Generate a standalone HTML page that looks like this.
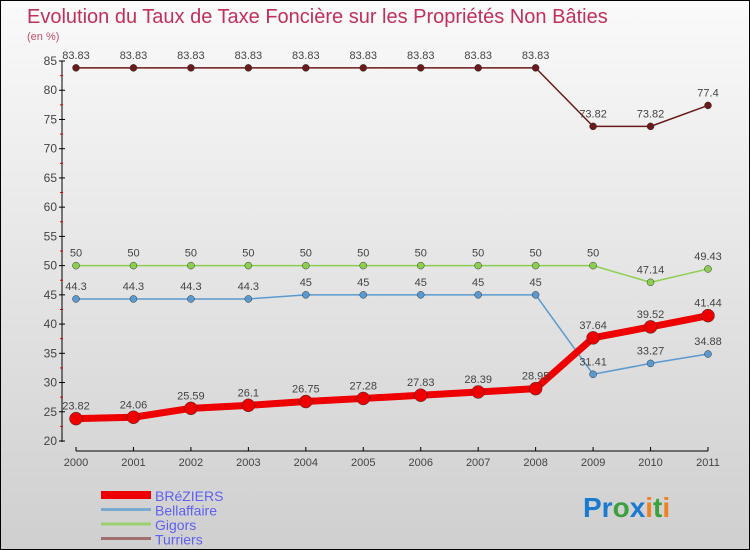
<!DOCTYPE html>
<html><head><meta charset="utf-8"><style>
body{margin:0}
#c{width:750px;height:550px;position:relative;overflow:hidden;background:linear-gradient(#fafafa,#cfcfcf);border:1px solid #000;box-sizing:border-box;font-family:"Liberation Sans",sans-serif}
text{font-family:"Liberation Sans",sans-serif}
</style></head><body>
<div id="c">
<svg id="s" width="750" height="550">
<text x="26" y="22" font-size="20" fill="#c0305a">Evolution du Taux de Taxe Foncière sur les Propriétés Non Bâties</text>
<text x="26" y="39" font-size="11" fill="#c0506a">(en %)</text>
<g id="ax"></g><g id="pl"></g><g id="lg"></g>
<text x="582" y="516" font-size="28" font-weight="bold"><tspan fill="#1a7ad0">Pr</tspan><tspan fill="#3aa040">o</tspan><tspan fill="#1a7ad0">x</tspan><tspan fill="#f08020">i</tspan><tspan fill="#3aa040">t</tspan><tspan fill="#f08020">i</tspan></text>
</svg></div>
<script>
const years=[2000,2001,2002,2003,2004,2005,2006,2007,2008,2009,2010,2011];
const yTicks=[20,25,30,35,40,45,50,55,60,65,70,75,80,85];
const names=["BRéZIERS","Bellaffaire","Gigors","Turriers"];
const breziers=[23.82,24.06,25.59,26.1,26.75,27.28,27.83,28.39,28.95,37.64,39.52,41.44];
const bellaffaire=[44.3,44.3,44.3,44.3,45,45,45,45,45,31.41,33.27,34.88];
const gigors=[50,50,50,50,50,50,50,50,50,50,47.14,49.43];
const turriers=[83.83,83.83,83.83,83.83,83.83,83.83,83.83,83.83,83.83,73.82,73.82,77.4];
const NS="http://www.w3.org/2000/svg";
const X=i=>75+i*(632/11), Y=v=>440-(v-20)*(380/65);
function mk(p,t,a){const e=document.createElementNS(NS,t);for(const k in a)e.setAttribute(k,a[k]);p.appendChild(e);return e;}
const ax=document.getElementById('ax'),pl=document.getElementById('pl'),lg=document.getElementById('lg');
let e=mk(ax,'line',{x1:61,y1:60,x2:61,y2:441,stroke:'#000'});

e=mk(ax,'line',{x1:75,y1:450,x2:707,y2:450,stroke:'#000'});

yTicks.forEach(v=>{const y=Y(v);mk(ax,'line',{x1:58,y1:y,x2:64,y2:y,stroke:'#000'});
 if(v<85)mk(ax,'line',{x1:59,y1:Y(v+2.5),x2:62,y2:Y(v+2.5),stroke:'#d00'});
 const t=mk(ax,'text',{x:56,y:y+4,'font-size':12,fill:'#444','text-anchor':'end'});t.textContent=v;
 });
years.forEach((yr,i)=>{mk(ax,'line',{x1:X(i),y1:446,x2:X(i),y2:450,stroke:'#000'});
 const t=mk(ax,'text',{x:X(i),y:465,'font-size':11,fill:'#444','text-anchor':'middle'});t.textContent=yr;
 });
function series(d,col,w,r,nm,lab){
 const p=mk(pl,'polyline',{points:d.map((v,i)=>X(i)+','+Y(v)).join(' '),fill:'none',stroke:col,'stroke-width':w,'stroke-linejoin':'round'});
 
 d.forEach((v,i)=>{const c=mk(pl,'circle',{cx:X(i),cy:Y(v),r:r,fill:col,stroke:'#333','stroke-width':0.5});
  
  const t=mk(pl,'text',{x:X(i),y:Y(v)-9,'font-size':11,fill:'#444','text-anchor':'middle'});t.textContent=v;
  });
}
series(turriers,'#6a1a1a',1.5,3.5,'turriers');
series(gigors,'#8ccf50',1.5,3.5,'gigors');
series(bellaffaire,'#5a9ad0',1.5,3.5,'bellaffaire');
series(breziers,'#ee0000',7,6.5,'breziers');
const cols=['#ee0000','#7aaad0','#9ad070','#a07070'],ws=[8,3,3,3];
names.forEach((n,i)=>{const y=494+i*14.5;
 const l=mk(lg,'line',{x1:100,y1:y,x2:150,y2:y,stroke:cols[i],'stroke-width':ws[i]});
 
 const t=mk(lg,'text',{x:154,y:y+6,'font-size':14,fill:'#6060f0'});t.textContent=n;
 });
</script>
</body></html>
